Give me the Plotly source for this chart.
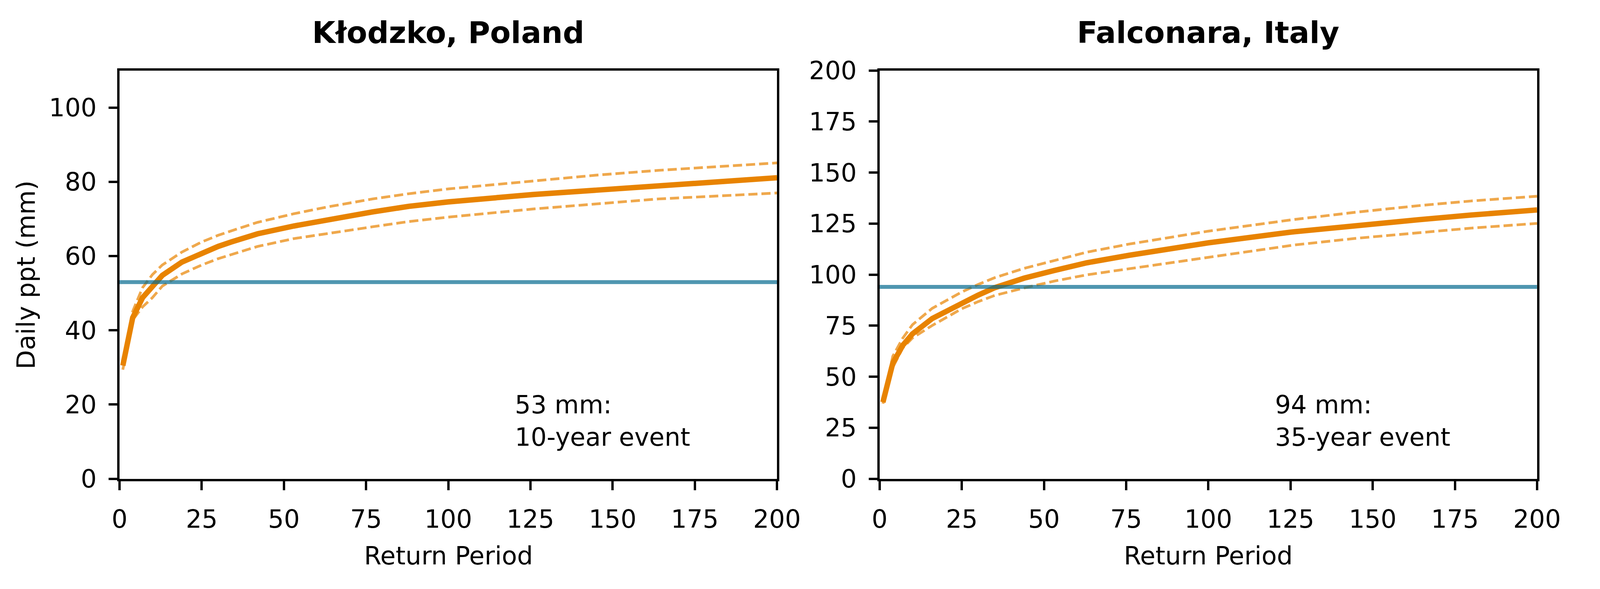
import plotly.graph_objects as go

# ---------------- data ----------------
# Kłodzko, Poland
klodzko_rp = [1, 4, 7, 10, 13, 19, 25, 30, 34, 42, 53, 63, 77, 88, 100, 126, 145, 164, 180, 200]
klodzko_mid = [30.5, 43.4, 48.8, 51.8, 54.8, 58.4, 60.9, 62.6, 63.8, 66.0, 68.1, 69.8, 71.9, 73.4,
               74.6, 76.6, 77.8, 79.1, 80.1, 81.1]
klodzko_hi = [31.0, 45.1, 51.5, 55.0, 57.6, 61.1, 63.8, 65.6, 66.8, 69.1, 71.4, 73.2, 75.4, 76.8,
              78.1, 80.3, 81.8, 83.1, 84.0, 85.1]
klodzko_lo = [29.4, 42.8, 46.3, 48.8, 51.9, 55.2, 57.6, 59.3, 60.4, 62.6, 64.7, 66.1, 67.9, 69.3,
              70.5, 72.7, 74.0, 75.4, 76.1, 77.0]
klodzko_event = 53
klodzko_text = "53 mm:<br>10-year event"

# Falconara, Italy
falconara_rp = [1, 4, 7, 10, 16, 25, 30, 35, 44, 53, 63, 76, 88, 100, 126, 145, 164, 180, 200]
falconara_mid = [37.5, 56.6, 65.3, 71.0, 78.5, 86.2, 90.0, 93.6, 98.3, 102.0, 105.8, 109.5, 112.6,
                 115.6, 121.0, 124.2, 126.9, 129.2, 131.7]
falconara_hi = [38.2, 60.0, 68.8, 75.5, 83.5, 91.5, 95.2, 98.5, 103.1, 107.0, 111.0, 115.0, 118.3,
                121.3, 127.0, 130.6, 133.8, 136.1, 138.4]
falconara_lo = [36.8, 54.5, 64.0, 69.0, 75.1, 83.3, 86.8, 89.8, 93.5, 96.8, 99.9, 102.9, 105.8,
                108.6, 114.5, 117.8, 120.5, 122.8, 125.1]
falconara_event = 94
falconara_text = "94 mm:<br>35-year event"

titles = ["Kłodzko, Poland", "Falconara, Italy"]
x_range = [0, 200]
x_ticks = [0, 25, 50, 75, 100, 125, 150, 175, 200]
y1_range = [0, 110]
y1_ticks = [0, 20, 40, 60, 80, 100]
y2_range = [0, 200]
y2_ticks = [0, 25, 50, 75, 100, 125, 150, 175, 200]
x_title = "Return Period"
y_title = "Daily ppt (mm)"

# ---------------- styling ----------------
REF_W, REF_H = 4492, 1509      # reference geometry (fractions computed from it)
W, H = 4096, 1509              # browser viewport actually available
SX = W / REF_W
FONT = "DejaVu Sans"
ORANGE = "rgb(232,131,0)"
ORANGE_A = "rgba(232,131,0,0.7)"
BLUE = "rgba(4,106,142,0.7)"
MAIN_W = 13.9
DASH_W = 6.9
EV_W = 10
SPINE = 5.6
FS_TICK = 64
FS_TITLE = 77
DASH = "%.1fpx,%.1fpx" % (25.7 * SX, 11.1 * SX)


def fx(p):
    return p / REF_W


def fy(p):
    return 1 - p / REF_H


AX_TOP, AX_BOT = 151, 1251
dom_x1 = [fx(320), fx(2203)]
dom_x2 = [fx(2497), fx(4380)]
dom_y = [fy(AX_BOT), fy(AX_TOP)]

fig = go.Figure()


def add_panel(rp, mid, hi, lo, event, xa, ya):
    fig.add_trace(go.Scatter(x=rp, y=mid, mode="lines", xaxis=xa, yaxis=ya,
                             line=dict(color=ORANGE, width=MAIN_W), showlegend=False))
    for s in (hi, lo):
        fig.add_trace(go.Scatter(x=rp, y=s, mode="lines", xaxis=xa, yaxis=ya,
                                 line=dict(color=ORANGE_A, width=DASH_W, dash=DASH),
                                 showlegend=False))
    fig.add_trace(go.Scatter(x=x_range, y=[event, event], mode="lines", xaxis=xa, yaxis=ya,
                             line=dict(color=BLUE, width=EV_W), showlegend=False))


add_panel(klodzko_rp, klodzko_mid, klodzko_hi, klodzko_lo, klodzko_event, "x", "y")
add_panel(falconara_rp, falconara_mid, falconara_hi, falconara_lo, falconara_event, "x2", "y2")

axis_common = dict(
    showline=True, linecolor="black", linewidth=SPINE, mirror=True,
    ticks="outside", tickwidth=SPINE, tickcolor="black",
    showgrid=False, zeroline=False,
    tickfont=dict(family=FONT, size=FS_TICK, color="black"),
)
xax = dict(ticklen=24, ticklabelstandoff=19, **axis_common)
yax = dict(ticklen=22, ticklabelstandoff=18, **axis_common)

fig.update_layout(
    width=W, height=H,
    margin=dict(l=0, r=0, t=0, b=0),
    paper_bgcolor="white", plot_bgcolor="white",
    font=dict(family=FONT, color="black"),
    xaxis=dict(domain=dom_x1, range=x_range, tickvals=x_ticks, anchor="y", **xax),
    yaxis=dict(domain=dom_y, range=y1_range, tickvals=y1_ticks, anchor="x", **yax),
    xaxis2=dict(domain=dom_x2, range=x_range, tickvals=x_ticks, anchor="y2", **xax),
    yaxis2=dict(domain=dom_y, range=y2_range, tickvals=y2_ticks, anchor="x2", **yax),
)

for dom, t in ((dom_x1, titles[0]), (dom_x2, titles[1])):
    fig.add_annotation(text="<b>%s</b>" % t, x=(dom[0] + dom[1]) / 2, y=fy(98),
                       xref="paper", yref="paper", xanchor="center", yanchor="bottom",
                       showarrow=False, font=dict(family=FONT, size=FS_TITLE, color="black"))
    fig.add_annotation(text=x_title, x=(dom[0] + dom[1]) / 2, y=fy(1458),
                       xref="paper", yref="paper", xanchor="center", yanchor="middle",
                       showarrow=False, font=dict(family=FONT, size=FS_TICK, color="black"))

fig.add_annotation(text=y_title, x=fx(51.8), y=fy(701), xref="paper", yref="paper",
                   xanchor="center", yanchor="middle", textangle=-90, showarrow=False,
                   font=dict(family=FONT, size=FS_TICK, color="black"))

for xa, txt in (("x", klodzko_text), ("x2", falconara_text)):
    fig.add_annotation(text=txt, x=120, y=fy(1180), xref=xa, yref="paper",
                       xanchor="left", yanchor="bottom", align="left", showarrow=False,
                       font=dict(family=FONT, size=FS_TICK, color="black"))

post = """
document.documentElement.style.margin='0';
document.body.style.margin='0';
document.body.style.overflow='hidden';
var gd=document.getElementById('{plot_id}');
var vw=window.innerWidth, vh=window.innerHeight;
if (vw && vh && (Math.abs(vw-%d)>2 || Math.abs(vh-%d)>2)) {
  Plotly.relayout(gd, {width: vw, height: vh});
}
""" % (W, H)
fig.write_html("out.html", post_script=post, config={"displayModeBar": False})
